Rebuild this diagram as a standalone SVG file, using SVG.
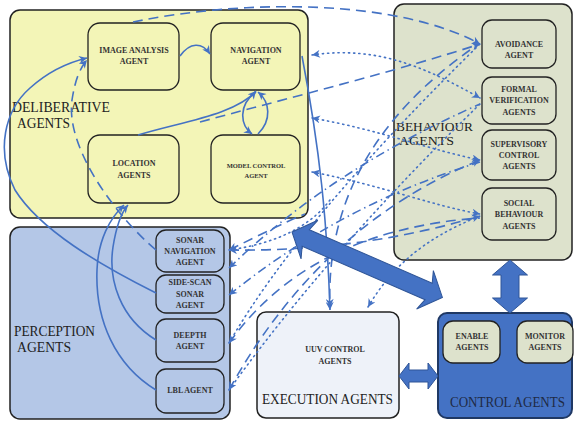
<svg xmlns="http://www.w3.org/2000/svg" width="576" height="424" viewBox="0 0 576 424">
<defs>
<marker id="ah" viewBox="0 0 10 10" refX="10" refY="5" markerWidth="9" markerHeight="8" markerUnits="userSpaceOnUse" orient="auto-start-reverse">
<path d="M0,0 L10,5 L0,10 L3,5 z" fill="#4472c4"/>
</marker>
<style>
.cont{stroke:#222;stroke-width:1.5}
.node{stroke:#222;stroke-width:1.3}
.yel{fill:#f3f5b7}
.grn{fill:#dde2cc}
.blu{fill:#b4c7e7}
.lbl{font-family:"Liberation Serif",serif;font-weight:bold;font-size:8px;fill:#333;text-anchor:middle}
.sm{font-size:6.5px}
.hd{font-family:"Liberation Serif",serif;font-size:15px;fill:#222}
.c{fill:none;stroke:#4472c4;stroke-width:1.6}
.dash{stroke-dasharray:10 6}
.dot{stroke-dasharray:1.2 4;stroke-linecap:round}
.dd{stroke-dasharray:9 4 1.5 4}
.big{fill:#4472c4;stroke:#2f5597;stroke-width:1}
</style>
</defs>
<rect width="576" height="424" fill="#fff"/>

<g id="deliberative">
<rect class="cont yel" x="10" y="10" width="298" height="208" rx="10"/>
<text class="hd" x="12" y="112" textLength="98" lengthAdjust="spacingAndGlyphs">DELIBERATIVE</text>
<text class="hd" x="17" y="128" textLength="53" lengthAdjust="spacingAndGlyphs">AGENTS</text>
</g>
<g id="image-analysis"><rect class="node yel" x="88" y="23" width="91" height="67" rx="12"/>
<text class="lbl" x="134" y="53">IMAGE ANALYSIS</text><text class="lbl" x="134" y="64">AGENT</text></g>
<g id="navigation"><rect class="node yel" x="211" y="23" width="89" height="67" rx="12"/>
<text class="lbl" x="256" y="53">NAVIGATION</text><text class="lbl" x="256" y="64">AGENT</text></g>
<g id="location"><rect class="node yel" x="88" y="135" width="91" height="68" rx="12"/>
<text class="lbl" x="134" y="166">LOCATION</text><text class="lbl" x="134" y="178">AGENTS</text></g>
<g id="model-control"><rect class="node yel" x="211" y="135" width="89" height="68" rx="12"/>
<text class="lbl sm" x="256" y="168">MODEL CONTROL</text><text class="lbl sm" x="256" y="178">AGENT</text></g>

<g id="behaviour">
<rect class="cont grn" x="394" y="4" width="178" height="256" rx="10"/>
<text class="hd" x="396" y="131" textLength="77" lengthAdjust="spacingAndGlyphs" style="font-size:13px">BEHAVIOUR</text>
<text class="hd" x="399" y="145" textLength="55" lengthAdjust="spacingAndGlyphs" style="font-size:13px">AGENTS</text>
</g>
<g id="avoidance"><rect class="node grn" x="482" y="20" width="74" height="48" rx="10"/>
<text class="lbl" x="519" y="47">AVOIDANCE</text><text class="lbl" x="519" y="58">AGENT</text></g>
<g id="formal-verification"><rect class="node grn" x="482" y="77" width="74" height="47" rx="10"/>
<text class="lbl" x="519" y="92">FORMAL</text><text class="lbl" x="519" y="103">VERIFICATION</text><text class="lbl" x="519" y="115">AGENTS</text></g>
<g id="supervisory-control"><rect class="node grn" x="482" y="130" width="74" height="50" rx="10"/>
<text class="lbl" x="519" y="147">SUPERVISORY</text><text class="lbl" x="519" y="158">CONTROL</text><text class="lbl" x="519" y="169">AGENTS</text></g>
<g id="social-behaviour"><rect class="node grn" x="482" y="188" width="74" height="52" rx="10"/>
<text class="lbl" x="519" y="206">SOCIAL</text><text class="lbl" x="519" y="217">BEHAVIOUR</text><text class="lbl" x="519" y="229">AGENTS</text></g>

<g id="perception">
<rect class="cont blu" x="10" y="227" width="220" height="192" rx="10"/>
<text class="hd" x="14" y="336" textLength="81" lengthAdjust="spacingAndGlyphs">PERCEPTION</text>
<text class="hd" x="17" y="352" textLength="54" lengthAdjust="spacingAndGlyphs">AGENTS</text>
</g>
<g id="sonar-navigation"><rect class="node blu" x="156" y="230" width="68" height="42" rx="10"/>
<text class="lbl" x="190" y="243">SONAR</text><text class="lbl" x="190" y="254">NAVIGATION</text><text class="lbl" x="190" y="265">AGENT</text></g>
<g id="side-scan-sonar"><rect class="node blu" x="156" y="275" width="68" height="38" rx="10"/>
<text class="lbl" x="190" y="285">SIDE-SCAN</text><text class="lbl" x="190" y="297">SONAR</text><text class="lbl" x="190" y="308">AGENT</text></g>
<g id="deepth"><rect class="node blu" x="156" y="319" width="68" height="43" rx="10"/>
<text class="lbl" x="190" y="338">DEEPTH</text><text class="lbl" x="190" y="349">AGENT</text></g>
<g id="lbl"><rect class="node blu" x="156" y="369" width="68" height="44" rx="10"/>
<text class="lbl" x="190" y="393">LBL AGENT</text></g>

<g id="execution">
<rect class="cont" fill="#eef2f9" x="257" y="312" width="142" height="106" rx="9"/>
<text class="lbl" x="335" y="352">UUV CONTROL</text><text class="lbl" x="335" y="364">AGENTS</text>
<text class="hd" x="262" y="404" textLength="131" lengthAdjust="spacingAndGlyphs" style="font-size:15px">EXECUTION AGENTS</text>
</g>

<g id="control">
<rect x="438" y="313" width="134" height="105" rx="9" fill="#4472c4" stroke="#1f3864" stroke-width="2"/>
<text class="hd" x="450" y="407" textLength="115" lengthAdjust="spacingAndGlyphs" style="font-size:14px;fill:#1f2a44">CONTROL AGENTS</text>
</g>
<g id="enable"><rect class="node grn" x="443" y="321" width="57" height="42" rx="10"/>
<text class="lbl" x="472" y="339">ENABLE</text><text class="lbl" x="472" y="350">AGENTS</text></g>
<g id="monitor"><rect class="node grn" x="517" y="321" width="56" height="42" rx="10"/>
<text class="lbl" x="545" y="339">MONITOR</text><text class="lbl" x="545" y="350">AGENTS</text></g>

<g id="connectors">
<path class="c" d="M180,56 C190,42 202,42 210,54" marker-end="url(#ah)"/>
<path class="c" d="M138,135 C180,122 235,115 256,91" marker-end="url(#ah)"/>
<path class="c" d="M256,92 C238,105 240,125 252,134" marker-end="url(#ah)"/>
<path class="c" d="M258,134 C272,120 270,102 258,92" marker-end="url(#ah)"/>
<path class="c" d="M156,293 C100,265 40,230 15,190 C-5,150 5,110 30,88 C50,70 70,62 87,58" marker-end="url(#ah)"/>
<path class="c" d="M156,340 C120,318 108,280 113,247 C116,228 120,214 128,205" marker-end="url(#ah)"/>
<path class="c" d="M156,390 C115,365 95,320 97,270 C98,240 110,218 124,205" marker-end="url(#ah)"/>
<path class="c" d="M302,56 C320,150 327,220 330,310" marker-end="url(#ah)"/>

<path class="c dash" d="M133,22 C250,-2 400,0 480,44" marker-end="url(#ah)"/>
<path class="c dash" d="M200,122 C300,95 400,70 480,44" marker-end="url(#ah)"/>
<path class="c dash" d="M156,250 C120,220 65,150 72,100 C75,80 80,68 87,60" marker-end="url(#ah)"/>
<path class="c dash" d="M470,50 C400,100 325,180 330,307" marker-end="url(#ah)"/>
<path class="c dash" d="M229,250 C260,235 285,222 305,214" marker-start="url(#ah)"/>
<path class="c dash" d="M229,250 Q360,252 480,216" marker-start="url(#ah)" marker-end="url(#ah)"/>
<path class="c dash" d="M229,390 Q320,225 480,160" marker-start="url(#ah)" marker-end="url(#ah)"/>
<path class="c dash" d="M229,343 Q310,230 480,218" marker-start="url(#ah)"/>

<path class="c dd" d="M229,268 Q330,170 480,104" marker-start="url(#ah)"/>
<path class="c dd" d="M229,295 Q340,205 480,162" marker-start="url(#ah)"/>

<path class="c dot" d="M312,55 C380,45 430,70 480,98" marker-start="url(#ah)" marker-end="url(#ah)"/>
<path class="c dot" d="M312,118 C380,130 430,150 480,160" marker-start="url(#ah)" marker-end="url(#ah)"/>
<path class="c dot" d="M312,172 C380,185 430,205 480,214" marker-start="url(#ah)" marker-end="url(#ah)"/>
<path class="c dot" d="M368,307 C390,270 420,240 480,216" marker-start="url(#ah)"/>
<path class="c dot" d="M229,343 Q300,220 480,44"/>
<path class="c dot" d="M229,390 Q330,250 480,104"/>
<path class="c dot" d="M229,250 Q300,240 330,200"/>

<polygon class="big" transform="translate(292,232) rotate(23.5)" points="0,0 19,-21 15,-9 149,-9 145,-21 164,0 145,21 149,9 15,9 19,21"/>
<polygon class="big" points="510,260 527.5,275 519,275 519,298 527.5,298 510,313 492.5,298 501,298 501,275 492.5,275"/>
<polygon class="big" points="399,376 409,363 409,370 428,370 428,363 438,376 428,389 428,382 409,382 409,389"/>
</g>
</svg>
